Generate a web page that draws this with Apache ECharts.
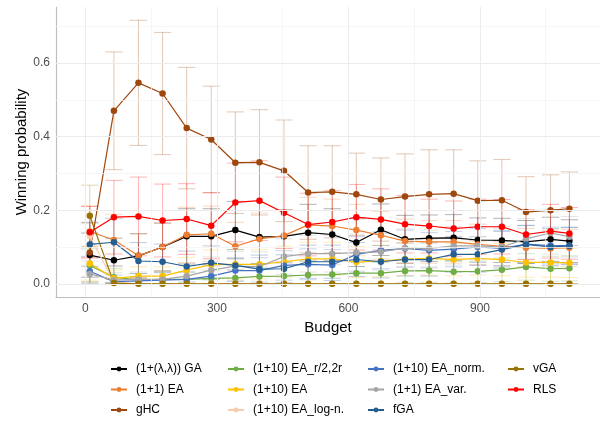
<!DOCTYPE html>
<html>
<head>
<meta charset="utf-8">
<script src="https://cdn.jsdelivr.net/npm/echarts@6/dist/echarts.min.js"></script>
<style>
html,body{margin:0;padding:0;background:#fff;}
#chart{width:600px;height:421px;}
</style>
</head>
<body>
<div id="chart"></div>
<script>
// ---- data ----
const budgets = [10, 65, 121, 176, 231, 287, 342, 397, 453, 508, 563, 618, 674, 729, 784, 840, 895, 950, 1005, 1061, 1104];

const gaLL     = [0.078, 0.064, 0.076, 0.100, 0.129, 0.129, 0.146, 0.127, 0.129, 0.139, 0.134, 0.112, 0.147, 0.121, 0.124, 0.125, 0.119, 0.118, 0.114, 0.121, 0.116];
const ea11     = [0.142, 0.119, 0.076, 0.100, 0.133, 0.136, 0.102, 0.122, 0.131, 0.160, 0.157, 0.146, 0.132, 0.116, 0.114, 0.114, 0.107, 0.102, 0.098, 0.096, 0.098];
const ghc      = [0.085, 0.470, 0.546, 0.517, 0.423, 0.392, 0.329, 0.330, 0.307, 0.248, 0.250, 0.243, 0.229, 0.237, 0.243, 0.245, 0.226, 0.227, 0.195, 0.200, 0.204];
const eaR2     = [0.050, 0.018, 0.010, 0.012, 0.012, 0.015, 0.016, 0.020, 0.021, 0.024, 0.025, 0.029, 0.029, 0.035, 0.036, 0.033, 0.034, 0.038, 0.046, 0.041, 0.042];
const ea110    = [0.055, 0.015, 0.021, 0.021, 0.037, 0.052, 0.053, 0.053, 0.060, 0.068, 0.068, 0.059, 0.062, 0.067, 0.069, 0.066, 0.069, 0.066, 0.058, 0.058, 0.057];
const eaLogN   = [0.130, 0.005, 0, 0, 0, 0, 0, 0, 0, 0, 0, 0, 0, 0, 0, 0, 0, 0, 0, 0, 0];
const eaNorm   = [0.034, 0.006, 0.008, 0.010, 0.012, 0.021, 0.036, 0.036, 0.050, 0.053, 0.051, 0.080, 0.091, 0.096, 0.091, 0.094, 0.100, 0.096, 0.108, 0.104, 0.104];
const eaVar    = [0.027, 0.010, 0.012, 0.012, 0.021, 0.037, 0.048, 0.047, 0.074, 0.082, 0.082, 0.085, 0.087, 0.097, 0.096, 0.103, 0.103, 0.100, 0.122, 0.138, 0.128];
const fga      = [0.107, 0.113, 0.062, 0.060, 0.047, 0.057, 0.050, 0.040, 0.041, 0.060, 0.060, 0.066, 0.060, 0.066, 0.066, 0.080, 0.080, 0.093, 0.107, 0.100, 0.103];
const vga      = [0.185, 0.002, 0, 0, 0, 0, 0, 0, 0, 0, 0, 0, 0, 0, 0, 0, 0, 0, 0, 0, 0];
const rls      = [0.140, 0.181, 0.183, 0.172, 0.176, 0.158, 0.221, 0.226, 0.193, 0.161, 0.168, 0.181, 0.175, 0.162, 0.157, 0.150, 0.155, 0.155, 0.134, 0.143, 0.137];

// error-bar half widths
const gaLLErr  = [0.060, 0.060, 0.060, 0.065, 0.075, 0.075, 0.078, 0.072, 0.072, 0.077, 0.070, 0.065, 0.070, 0.065, 0.063, 0.063, 0.060, 0.060, 0.058, 0.060, 0.058];
const ea11Err  = [0.070, 0.070, 0.060, 0.065, 0.075, 0.075, 0.065, 0.070, 0.070, 0.075, 0.073, 0.070, 0.065, 0.060, 0.058, 0.058, 0.055, 0.053, 0.052, 0.050, 0.050];
const ghcErr   = [0.080, 0.160, 0.170, 0.166, 0.165, 0.145, 0.138, 0.143, 0.138, 0.127, 0.125, 0.112, 0.113, 0.116, 0.121, 0.119, 0.108, 0.111, 0.096, 0.096, 0.100];
const eaR2Err  = [0.045, 0.024, 0.018, 0.020, 0.020, 0.022, 0.022, 0.025, 0.025, 0.027, 0.027, 0.029, 0.029, 0.032, 0.032, 0.031, 0.031, 0.032, 0.036, 0.034, 0.034];
const ea110Err = [0.045, 0.022, 0.025, 0.025, 0.035, 0.040, 0.040, 0.040, 0.042, 0.045, 0.045, 0.042, 0.043, 0.044, 0.045, 0.044, 0.045, 0.044, 0.040, 0.040, 0.040];
const eaLogNErr= [0.080, 0.012, 0, 0, 0, 0, 0, 0, 0, 0, 0, 0, 0, 0, 0, 0, 0, 0, 0, 0, 0];
const eaNormErr= [0.040, 0.018, 0.020, 0.020, 0.020, 0.028, 0.035, 0.035, 0.040, 0.042, 0.042, 0.048, 0.050, 0.050, 0.048, 0.048, 0.050, 0.048, 0.050, 0.050, 0.050];
const eaVarErr = [0.035, 0.020, 0.020, 0.020, 0.028, 0.036, 0.040, 0.040, 0.048, 0.050, 0.050, 0.050, 0.050, 0.052, 0.050, 0.052, 0.052, 0.050, 0.055, 0.057, 0.055];
const fgaErr   = [0.060, 0.065, 0.050, 0.048, 0.042, 0.046, 0.043, 0.038, 0.038, 0.045, 0.045, 0.046, 0.044, 0.045, 0.045, 0.048, 0.048, 0.050, 0.052, 0.050, 0.050];
const vgaErr   = [0.083, 0.010, 0, 0, 0, 0, 0, 0, 0, 0, 0, 0, 0, 0, 0, 0, 0, 0, 0, 0, 0];
const rlsErr   = [0.070, 0.100, 0.107, 0.099, 0.096, 0.090, 0.107, 0.108, 0.097, 0.085, 0.085, 0.089, 0.083, 0.078, 0.073, 0.075, 0.075, 0.074, 0.068, 0.073, 0.070];

const names  = ['(1+(λ,λ)) GA', '(1+1) EA', 'gHC', '(1+10) EA_r/2,2r', '(1+10) EA', '(1+10) EA_log-n.', '(1+10) EA_norm.', '(1+1) EA_var.', 'fGA', 'vGA', 'RLS'];
const values = [gaLL, ea11, ghc, eaR2, ea110, eaLogN, eaNorm, eaVar, fga, vga, rls];
const errs   = [gaLLErr, ea11Err, ghcErr, eaR2Err, ea110Err, eaLogNErr, eaNormErr, eaVarErr, fgaErr, vgaErr, rlsErr];
const colors = ['#000000', '#ED7D31', '#9E480E', '#70AD47', '#FFC000', '#F8CBAD', '#4472C4', '#A5A5A5', '#255E91', '#997300', '#FF0000'];

const xTicks = [0, 300, 600, 900];
const xMinor = [150, 450, 750, 1050];
const yTicks = [0, 0.2, 0.4, 0.6];
const yMinor = [0.1, 0.3, 0.5, 0.7];

// ---- chart ----
const FONT = 'Liberation Sans, Arial, sans-serif';
const CAP = 19.7; // half cap width in budget units

function hexA(hex, a) {
  const r = parseInt(hex.slice(1,3),16), g = parseInt(hex.slice(3,5),16), b = parseInt(hex.slice(5,7),16);
  return 'rgba(' + r + ',' + g + ',' + b + ',' + a + ')';
}

const series = [];

// grid lines (as markLines on a dummy series)
const gridMarks = [];
xMinor.forEach(v => gridMarks.push({xAxis: v, lineStyle: {color: '#F2F2F2', width: 0.7, type: 'solid'}}));
yMinor.forEach(v => gridMarks.push({yAxis: v, lineStyle: {color: '#F2F2F2', width: 0.7, type: 'solid'}}));
xTicks.forEach(v => gridMarks.push({xAxis: v, lineStyle: {color: '#EBEBEB', width: 1, type: 'solid'}}));
yTicks.forEach(v => gridMarks.push({yAxis: v, lineStyle: {color: '#EBEBEB', width: 1, type: 'solid'}}));
series.push({
  type: 'line', name: '_grid', data: [], z: 0, silent: true,
  markLine: {silent: true, symbol: ['none','none'], label: {show: false}, animation: false,
    lineStyle: {type: 'solid'}, emphasis: {disabled: true}, data: gridMarks}
});

// error bars
names.forEach((n, k) => {
  const col = hexA(colors[k], 0.3);
  series.push({
    type: 'custom', name: n + ' err', z: 1, silent: true, animation: false,
    data: budgets.map((b, i) => [b, Math.max(0, values[k][i] - errs[k][i]), values[k][i] + errs[k][i]]),
    encode: {x: 0, y: [1, 2]},
    renderItem: function (params, api) {
      const x = api.value(0), lo = api.value(1), hi = api.value(2);
      const pLo = api.coord([x, lo]), pHi = api.coord([x, hi]);
      const lL = api.coord([x - CAP, lo]), lR = api.coord([x + CAP, lo]);
      const hL = api.coord([x - CAP, hi]), hR = api.coord([x + CAP, hi]);
      const st = {stroke: col, lineWidth: 1};
      return {type: 'group', children: [
        {type: 'line', shape: {x1: pLo[0], y1: pLo[1], x2: pHi[0], y2: pHi[1]}, style: st},
        {type: 'line', shape: {x1: lL[0], y1: lL[1], x2: lR[0], y2: lR[1]}, style: st},
        {type: 'line', shape: {x1: hL[0], y1: hL[1], x2: hR[0], y2: hR[1]}, style: st}
      ]};
    }
  });
});

// lines with points
names.forEach((n, k) => {
  series.push({
    type: 'line', name: n, z: 2, animation: false,
    data: budgets.map((b, i) => [b, values[k][i]]),
    symbol: 'circle', symbolSize: 6.5, showSymbol: true,
    lineStyle: {color: colors[k], width: 1.2},
    itemStyle: {color: colors[k]}
  });
});

const legendCols = [
  {left: 110, data: names.slice(0, 3)},
  {left: 227, data: names.slice(3, 6)},
  {left: 367, data: names.slice(6, 9)},
  {left: 507, data: names.slice(9, 11)}
];
const legends = legendCols.map(c => ({
  type: 'plain', orient: 'vertical', left: c.left, top: 362, height: 70, padding: 0,
  data: c.data,
  itemWidth: 16, itemHeight: 6, itemGap: 6.5,
  selectedMode: false,
  textStyle: {fontFamily: FONT, fontSize: 12, color: '#000', lineHeight: 14, padding: [0, 0, 0, 4]}
}));

const chart = echarts.init(document.getElementById('chart'), null, {renderer: 'canvas'});
chart.setOption({
  backgroundColor: '#fff',
  animation: false,
  grid: {left: 56, top: 7, right: 0, bottom: 124, containLabel: false},
  legend: legends,
  xAxis: {
    type: 'value', min: -67.1, max: 1173.8,
    name: 'Budget', nameLocation: 'middle', nameGap: 23, nameMoveOverlap: false,
    nameTextStyle: {fontFamily: FONT, fontSize: 15, color: '#000'},
    axisLine: {show: true, onZero: false, lineStyle: {color: '#BEBEBE', width: 1.2}},
    axisTick: {show: false},
    splitLine: {show: false},
    axisLabel: {customValues: xTicks, fontFamily: FONT, fontSize: 12, color: '#4D4D4D', margin: 6,
      showMinLabel: true, showMaxLabel: true}
  },
  yAxis: {
    type: 'value', min: -0.0358, max: 0.752,
    name: 'Winning probability', nameLocation: 'middle', nameGap: 27, nameRotate: 90, nameMoveOverlap: false,
    nameTextStyle: {fontFamily: FONT, fontSize: 15, color: '#000'},
    axisLine: {show: true, onZero: false, lineStyle: {color: '#BEBEBE', width: 1.2}},
    axisTick: {show: false},
    splitLine: {show: false},
    axisLabel: {customValues: yTicks, fontFamily: FONT, fontSize: 12, color: '#4D4D4D', margin: 6,
      formatter: v => v.toFixed(1)}
  },
  series: series
});
</script>
</body>
</html>
